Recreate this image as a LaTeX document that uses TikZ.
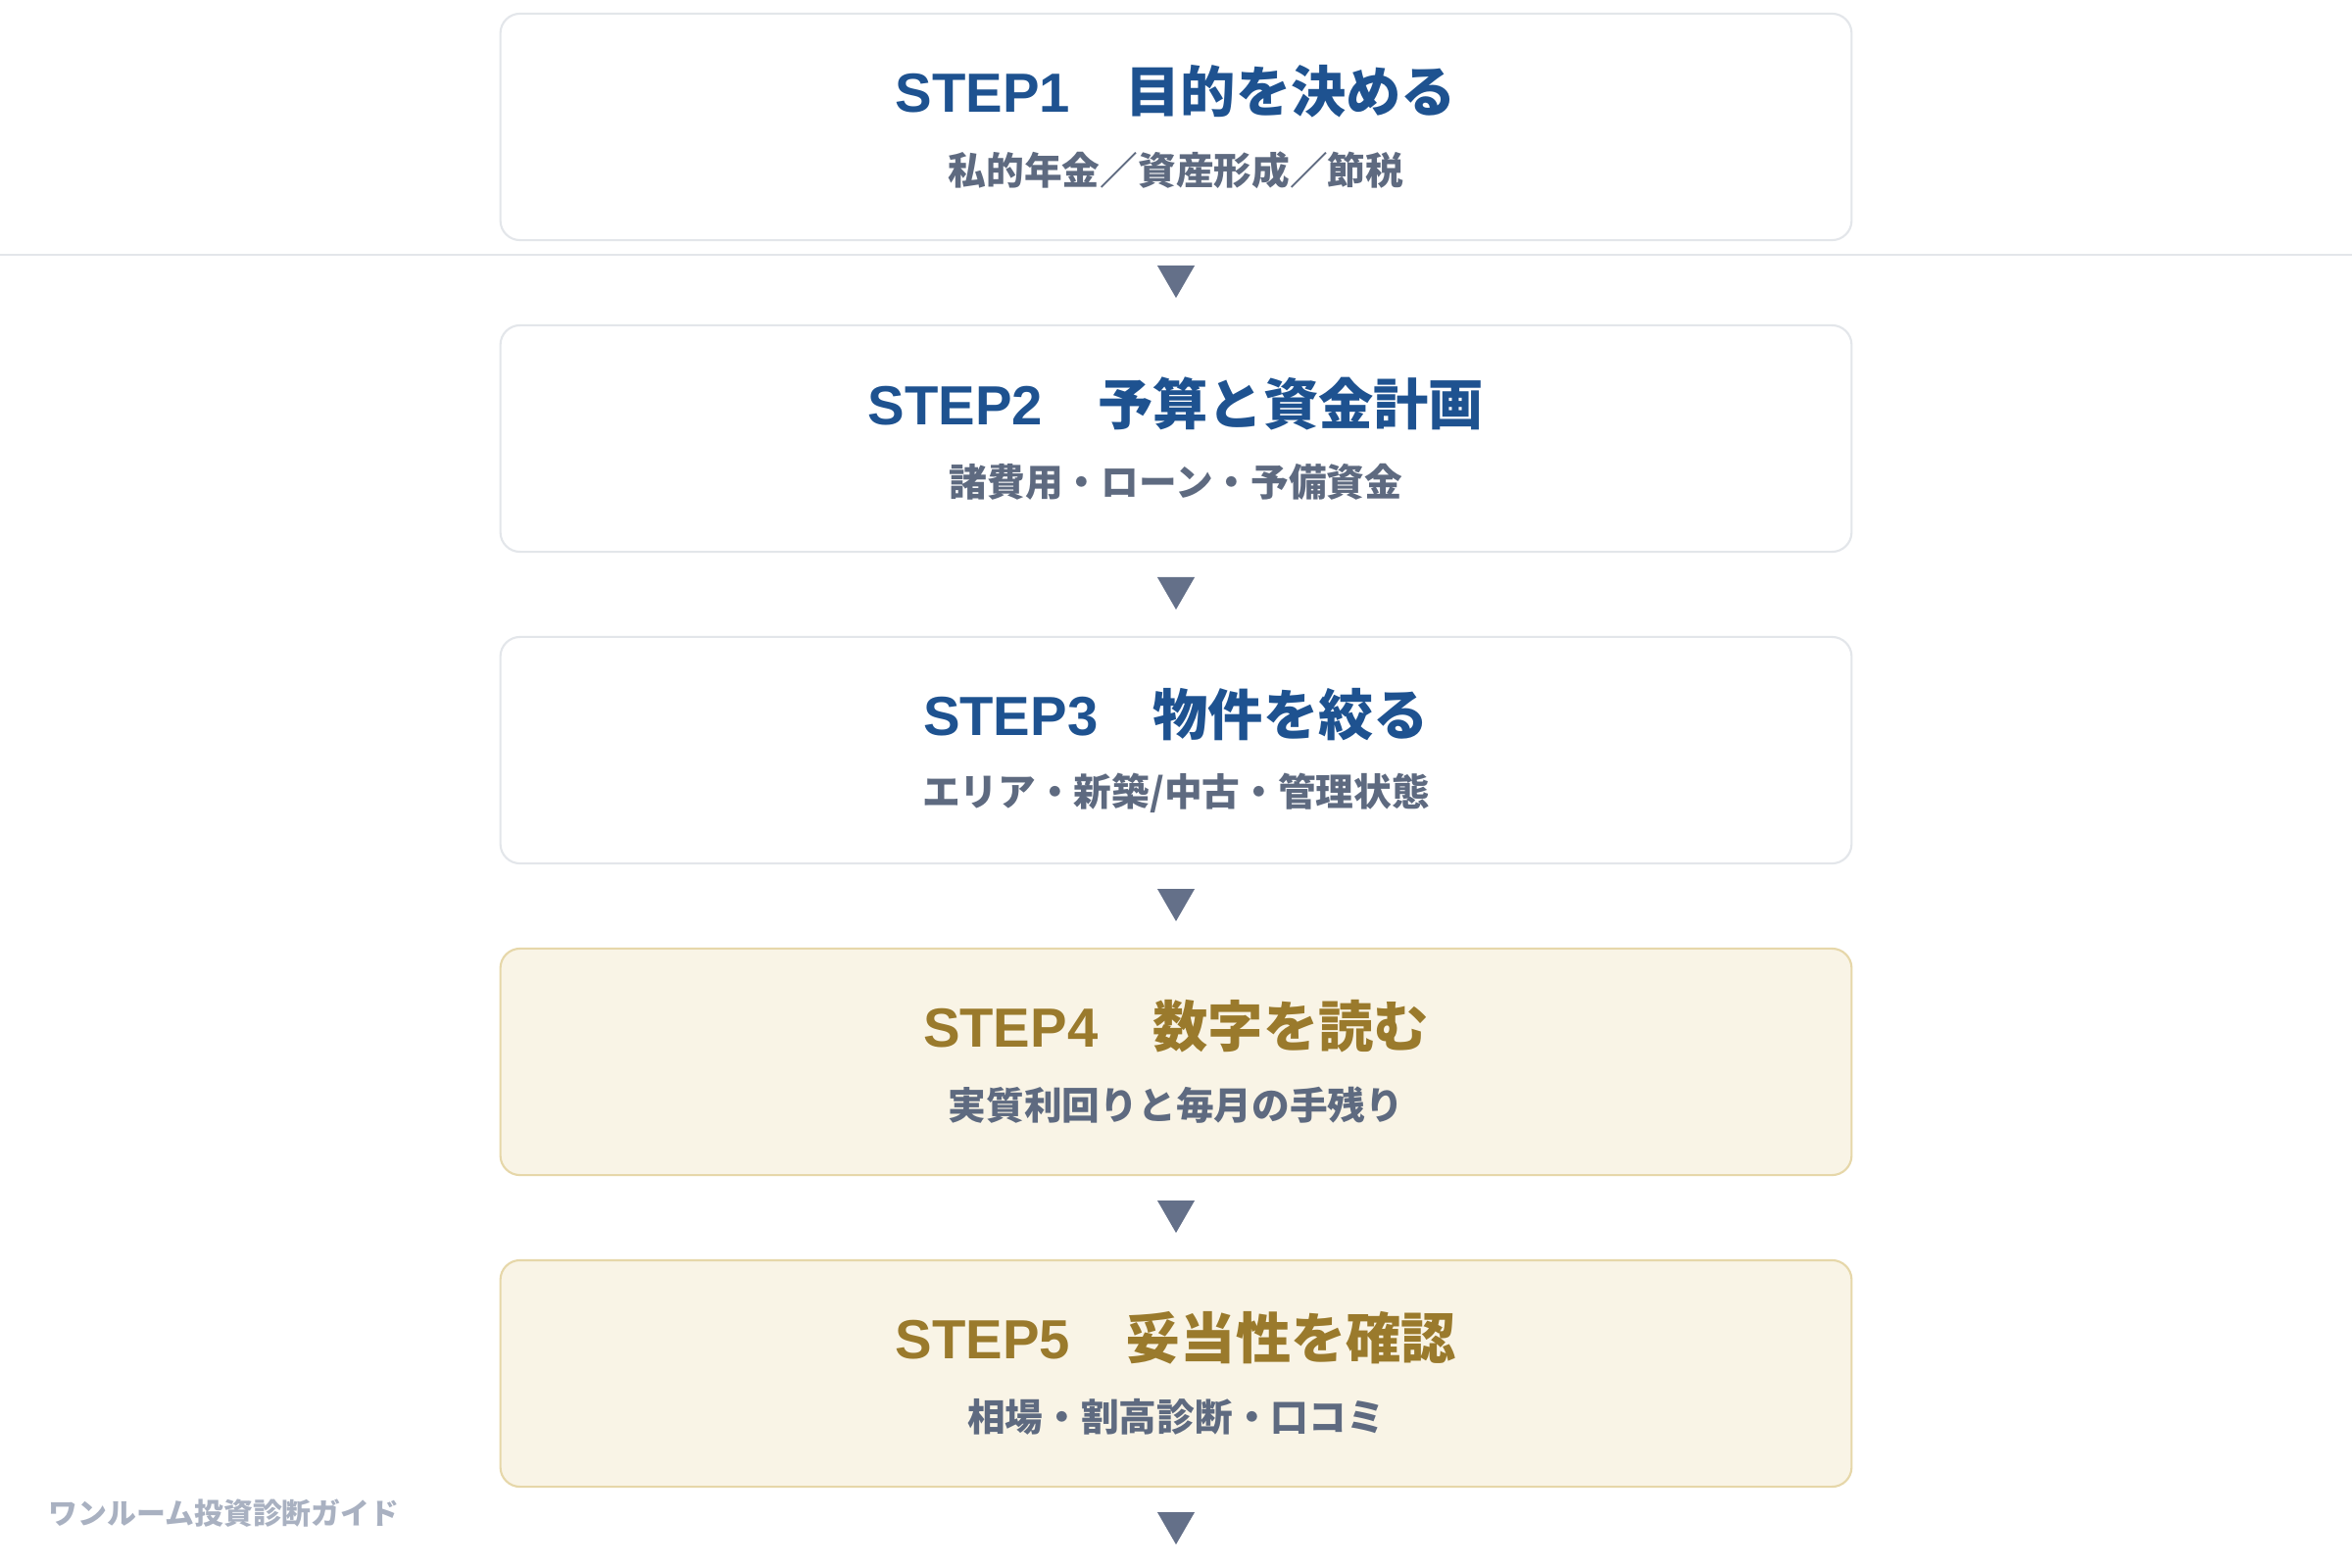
\documentclass[tikz,border=0pt]{standalone}
\usepackage{fontspec}
\setmainfont{Noto Sans CJK JP}
\newfontfamily\latinf{Liberation Sans}
\usepackage{tikz}
\usetikzlibrary{shapes.geometric}

\definecolor{stepblue}{HTML}{1E5290}
\definecolor{stepgold}{HTML}{9A7A2C}
\definecolor{subgrey}{HTML}{5E6A80}
\definecolor{trigrey}{HTML}{647089}
\definecolor{boxline}{HTML}{E3E6EA}
\definecolor{goldline}{HTML}{E6D7A9}
\definecolor{goldfill}{HTML}{F9F4E6}
\definecolor{footgrey}{HTML}{A9B1C1}

\newcommand{\stepno}[1]{{\latinf\bfseries STEP#1}}

\begin{document}
\begin{tikzpicture}[x=0.01cm,y=-0.01cm,
  stepbox/.style={rectangle,rounded corners=0.2cm,draw=boxline,fill=white,line width=0.6pt,
    minimum width=13.78cm,minimum height=2.31cm,inner sep=0pt},
  goldbox/.style={stepbox,draw=goldline,fill=goldfill},
  title/.style={inner sep=0pt,font=\bfseries\fontsize{16}{18}\selectfont},
  sub/.style={inner sep=0pt,text=subgrey,font=\bfseries\fontsize{11}{13}\selectfont},
  tri/.style={regular polygon,regular polygon sides=3,shape border rotate=180,
    fill=trigrey,minimum size=0.44cm,inner sep=0pt}]
\useasboundingbox (0,0) rectangle (2400,1600);

\coordinate (l0) at (0,260);
\coordinate (l1) at (2400,260);
\draw[boxline, line width=0.6pt] (l0) -- (l1);

\node[stepbox] (1) at (1200,129.5) {};
\node[title,text=stepblue] (1t) at (1200,93.5) {\stepno{1}　目的を決める};
\node[sub] (1s) at (1200,173.5) {私的年金／資産形成／節税};

\node[stepbox] (2) at (1200,447.5) {};
\node[title,text=stepblue] (2t) at (1200,411.5) {\stepno{2}　予算と資金計画};
\node[sub] (2s) at (1200,491.5) {諸費用・ローン・予備資金};

\node[stepbox] (3) at (1200,765.5) {};
\node[title,text=stepblue] (3t) at (1200,729.5) {\stepno{3}　物件を絞る};
\node[sub] (3s) at (1200,809.5) {エリア・新築/中古・管理状態};

\node[goldbox] (4) at (1200,1083.5) {};
\node[title,text=stepgold] (4t) at (1200,1047.5) {\stepno{4}　数字を読む};
\node[sub] (4s) at (1200,1127.5) {実質利回りと毎月の手残り};

\node[goldbox] (5) at (1200,1401.5) {};
\node[title,text=stepgold] (5t) at (1200,1365.5) {\stepno{5}　妥当性を確認};
\node[sub] (5s) at (1200,1445.5) {相場・割高診断・口コミ};

% markers between the steps
\node[tri] (a1) at (1200,282) {};
\node[tri] (a2) at (1200,600) {};
\node[tri] (a3) at (1200,918) {};
\node[tri] (a4) at (1200,1236) {};
\node[tri] (a5) at (1200,1554) {};

\node[anchor=west,inner sep=0pt,text=footgrey,font=\bfseries\fontsize{8.5}{10}\selectfont] (foot) at (49,1544) {ワンルーム投資診断ガイド};
\end{tikzpicture}
\end{document}
